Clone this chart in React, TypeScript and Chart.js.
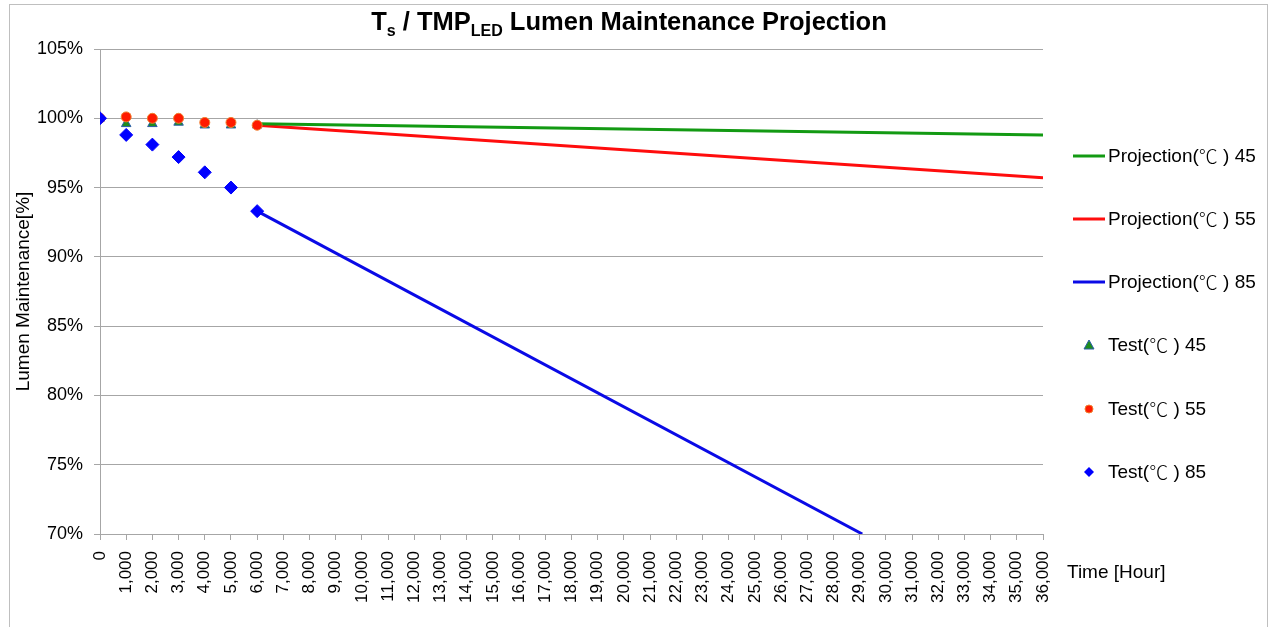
import React, { useEffect, useRef } from "react";
import { Chart, registerables } from "chart.js";

Chart.register(...registerables);

// ---- data ----
const testHours = [0, 1000, 2000, 3000, 4000, 5000, 6000];
const test45 = [100, 99.6, 99.6, 99.7, 99.5, 99.5, 99.5];
const test55 = [100, 100.1, 100.0, 100.0, 99.7, 99.7, 99.5];
const test85 = [100, 98.8, 98.1, 97.2, 96.1, 95.0, 93.3];

const proj45Hours = [6000, 36000];
const proj45 = [99.6, 98.8];
const proj55Hours = [6000, 36000];
const proj55 = [99.5, 95.7];
const proj85Hours = [6000, 29100];
const proj85 = [93.3, 70.0];

const yTicks = [70, 75, 80, 85, 90, 95, 100, 105];
const legendLabels = [
  "Projection(℃) 45",
  "Projection(℃) 55",
  "Projection(℃) 85",
  "Test(℃) 45",
  "Test(℃) 55",
  "Test(℃) 85",
];
const xTitle = "Time [Hour]";
const yTitle = "Lumen Maintenance[%]";

const FONT = "'Liberation Sans', Arial, sans-serif";
const CJK = "'Noto Sans CJK SC', 'Noto Sans CJK JP', sans-serif";

const pts = (xs: number[], ys: number[]) => xs.map((x, i) => ({ x, y: ys[i] }));

const GREEN = "#139a13";
const RED = "#ff0d0d";
const BLUE = "#0a0ae6";

const extrasPlugin = {
  id: "extras",
  afterDraw(chart: any) {
    const ctx = chart.ctx;
    ctx.save();
    // title with subscripts
    const big = `bold 25.5px ${FONT}`;
    const small = `bold 16px ${FONT}`;
    const parts: [string, string, number][] = [
      ["T", big, 0],
      ["s", small, 6],
      [" / TMP", big, 0],
      ["LED", small, 6],
      [" Lumen Maintenance Projection", big, 0],
    ];
    let total = 0;
    for (const [t, f] of parts) {
      ctx.font = f;
      total += ctx.measureText(t).width;
    }
    let x = 629 - total / 2;
    ctx.fillStyle = "#000";
    ctx.textBaseline = "alphabetic";
    ctx.textAlign = "left";
    for (const [t, f, dy] of parts) {
      ctx.font = f;
      ctx.fillText(t, x, 30 + dy);
      x += ctx.measureText(t).width;
    }

    // x axis title to the right
    ctx.font = `19px ${FONT}`;
    ctx.textBaseline = "middle";
    ctx.fillText(xTitle, 1067, 573);

    // legend
    const ys = [156, 219, 282, 345, 409, 472];
    const colors = [GREEN, RED, BLUE];
    for (let i = 0; i < 6; i++) {
      const y = ys[i];
      if (i < 3) {
        ctx.strokeStyle = colors[i];
        ctx.lineWidth = 3;
        ctx.beginPath();
        ctx.moveTo(1073, y);
        ctx.lineTo(1105, y);
        ctx.stroke();
      } else if (i === 3) {
        ctx.fillStyle = "#1e8c1e";
        ctx.strokeStyle = "#2a5da8";
        ctx.lineWidth = 1;
        ctx.beginPath();
        ctx.moveTo(1089, y - 5);
        ctx.lineTo(1094, y + 4);
        ctx.lineTo(1084, y + 4);
        ctx.closePath();
        ctx.fill();
        ctx.stroke();
      } else if (i === 4) {
        ctx.fillStyle = "#ff1a00";
        ctx.strokeStyle = "#f08030";
        ctx.lineWidth = 1;
        ctx.beginPath();
        ctx.arc(1089, y, 4, 0, Math.PI * 2);
        ctx.fill();
        ctx.stroke();
      } else {
        ctx.fillStyle = "#0000ff";
        ctx.beginPath();
        ctx.moveTo(1089, y - 5);
        ctx.lineTo(1094, y);
        ctx.lineTo(1089, y + 5);
        ctx.lineTo(1084, y);
        ctx.closePath();
        ctx.fill();
      }
      // text: Latin parts in sans, ℃ in CJK full-width glyph
      ctx.fillStyle = "#000";
      ctx.textBaseline = "middle";
      const label = legendLabels[i];
      const k = label.indexOf("℃");
      const segs: [string, string][] = [
        [label.slice(0, k), `19px ${FONT}`],
        ["℃", `300 19px ${CJK}`],
        [" " + label.slice(k + 1), `19px ${FONT}`],
      ];
      let tx = 1108;
      for (const [s, f] of segs) {
        ctx.font = f;
        ctx.fillText(s, tx, y + 1);
        tx += ctx.measureText(s).width;
      }
    }
    ctx.restore();
  },
};

export default function App() {
  const ref = useRef<HTMLCanvasElement>(null);

  useEffect(() => {
    if (!ref.current) return;
    const chart = new Chart(ref.current, {
      type: "scatter",
      data: {
        datasets: [
          {
            label: legendLabels[5],
            data: pts(testHours, test85),
            pointStyle: "rectRot",
            pointRadius: 6.5,
            backgroundColor: "#0000ff",
            borderColor: "#0000ff",
            borderWidth: 1,
            showLine: false,
            order: 0,
          },
          {
            label: legendLabels[4],
            data: pts(testHours, test55),
            pointStyle: "circle",
            pointRadius: 5,
            backgroundColor: "#ff1a00",
            borderColor: "#f08030",
            borderWidth: 1,
            showLine: false,
            order: 1,
          },
          {
            label: legendLabels[3],
            data: pts(testHours, test45),
            pointStyle: "triangle",
            pointRadius: 5.5,
            backgroundColor: "#1e8c1e",
            borderColor: "#2a5da8",
            borderWidth: 1,
            showLine: false,
            order: 2,
          },
          {
            label: legendLabels[0],
            data: pts(proj45Hours, proj45),
            showLine: true,
            borderColor: GREEN,
            borderWidth: 3,
            pointRadius: 0,
            order: 3,
          },
          {
            label: legendLabels[1],
            data: pts(proj55Hours, proj55),
            showLine: true,
            borderColor: RED,
            borderWidth: 3,
            pointRadius: 0,
            order: 4,
          },
          {
            label: legendLabels[2],
            data: pts(proj85Hours, proj85),
            showLine: true,
            borderColor: BLUE,
            borderWidth: 3,
            pointRadius: 0,
            order: 5,
          },
        ] as any,
      },
      options: {
        animation: false,
        responsive: false,
        maintainAspectRatio: false,
        layout: { padding: { left: 0, top: 49, right: 226, bottom: 0 } },
        plugins: {
          legend: { display: false },
          title: { display: false },
          tooltip: { enabled: false },
        },
        scales: {
          x: {
            type: "linear",
            min: 0,
            max: 36000,
            afterFit: (s: any) => {
              s.height = 627 - 534;
            },
            afterBuildTicks: (s: any) => {
              const t = [];
              for (let v = 0; v <= 36000; v += 1000) t.push({ value: v });
              s.ticks = t;
            },
            ticks: {
              stepSize: 1000,
              autoSkip: false,
              minRotation: 90,
              maxRotation: 90,
              padding: 11,
              color: "#000",
              font: { family: FONT, size: 17 },
              callback: (v: any) => Number(v).toLocaleString("en-US"),
            },
            grid: {
              display: true,
              drawOnChartArea: false,
              drawTicks: true,
              tickLength: 6,
              color: "#a6a6a6",
              lineWidth: 1,
            },
            border: { display: true, color: "#a6a6a6", width: 1 },
          },
          y: {
            type: "linear",
            min: 70,
            max: 105,
            afterFit: (s: any) => {
              s.width = 100;
            },
            afterBuildTicks: (s: any) => {
              s.ticks = yTicks.map((v) => ({ value: v }));
            },
            ticks: {
              stepSize: 5,
              padding: 11,
              color: "#000",
              font: { family: FONT, size: 18 },
              callback: (v: any) => `${v}%`,
            },
            grid: {
              color: "#a6a6a6",
              lineWidth: 1,
              tickLength: 6,
            },
            border: { display: true, color: "#a6a6a6", width: 1 },
            title: {
              display: true,
              text: yTitle,
              color: "#000",
              font: { family: FONT, size: 19 },
              padding: { top: 12, bottom: 0 },
            },
          },
        },
      } as any,
      plugins: [extrasPlugin],
    });
    return () => chart.destroy();
  }, []);

  return (
    <div style={{ position: "fixed", left: 0, top: 0, width: 1269, height: 627, background: "#fff" }}>
      <canvas ref={ref} width={1269} height={627} style={{ position: "absolute", left: 0, top: 0 }} />
      <div
        style={{
          position: "absolute",
          left: 9,
          top: 4,
          width: 1257,
          height: 700,
          border: "1px solid #bfbfbf",
          pointerEvents: "none",
        }}
      />
    </div>
  );
}
